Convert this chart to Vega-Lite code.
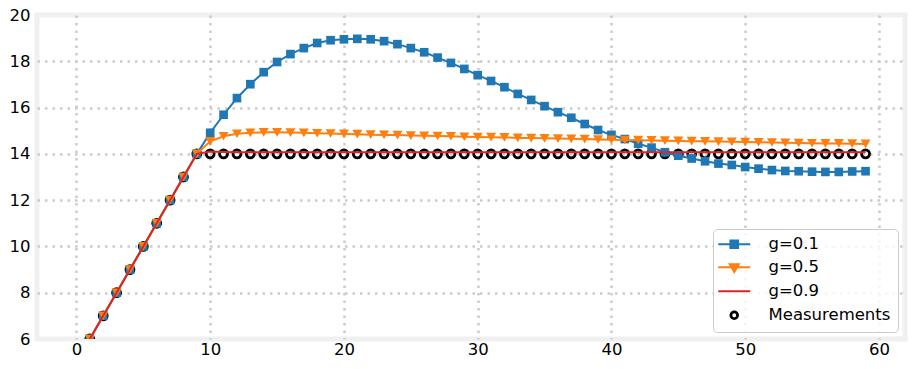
{
"$schema":"https://vega.github.io/schema/vega-lite/v6.json",
"width":868,"height":324,
"autosize":{"type":"none"},
"padding":{"left":37,"top":15,"right":11,"bottom":30},
"background":"white",
"config":{
 "view":{"stroke":"#f0f0f0","strokeWidth":5},
 "axis":{"labelFont":"DejaVu Sans","labelFontSize":16.5,"labelColor":"#000000","ticks":false,"tickSize":0,"domain":false,"grid":true,"gridColor":"#cbcbcb","gridDash":[2.5,5],"gridWidth":2.5,"labelFlush":false},
 "legend":{"orient":"bottom-right","offset":7,"padding":7,"fillColor":"rgba(255,255,255,0.8)","strokeColor":"#cccccc","cornerRadius":4,"labelFont":"DejaVu Sans","labelFontSize":16.5,"labelColor":"#000000","labelOffset":26,"symbolOffset":6,"rowPadding":6,"symbolSize":1024,"labelLimit":300}
},
"data":{"values":[
{"x":0,"y":5,"s":"g=0.1"},{"x":1,"y":6,"s":"g=0.1"},{"x":2,"y":7,"s":"g=0.1"},{"x":3,"y":8,"s":"g=0.1"},{"x":4,"y":9,"s":"g=0.1"},{"x":5,"y":10,"s":"g=0.1"},{"x":6,"y":11,"s":"g=0.1"},{"x":7,"y":12,"s":"g=0.1"},{"x":8,"y":13,"s":"g=0.1"},{"x":9,"y":14,"s":"g=0.1"},
{"x":10,"y":14.91,"s":"g=0.1"},{"x":11,"y":15.69,"s":"g=0.1"},{"x":12,"y":16.41,"s":"g=0.1"},{"x":13,"y":17.01,"s":"g=0.1"},{"x":14,"y":17.53,"s":"g=0.1"},{"x":15,"y":17.97,"s":"g=0.1"},{"x":16,"y":18.31,"s":"g=0.1"},{"x":17,"y":18.57,"s":"g=0.1"},{"x":18,"y":18.79,"s":"g=0.1"},{"x":19,"y":18.91,"s":"g=0.1"},
{"x":20,"y":18.95,"s":"g=0.1"},{"x":21,"y":18.97,"s":"g=0.1"},{"x":22,"y":18.95,"s":"g=0.1"},{"x":23,"y":18.87,"s":"g=0.1"},{"x":24,"y":18.74,"s":"g=0.1"},{"x":25,"y":18.57,"s":"g=0.1"},{"x":26,"y":18.39,"s":"g=0.1"},{"x":27,"y":18.16,"s":"g=0.1"},{"x":28,"y":17.93,"s":"g=0.1"},{"x":29,"y":17.67,"s":"g=0.1"},
{"x":30,"y":17.4,"s":"g=0.1"},{"x":31,"y":17.15,"s":"g=0.1"},{"x":32,"y":16.88,"s":"g=0.1"},{"x":33,"y":16.59,"s":"g=0.1"},{"x":34,"y":16.33,"s":"g=0.1"},{"x":35,"y":16.06,"s":"g=0.1"},{"x":36,"y":15.8,"s":"g=0.1"},{"x":37,"y":15.56,"s":"g=0.1"},{"x":38,"y":15.29,"s":"g=0.1"},{"x":39,"y":15.03,"s":"g=0.1"},
{"x":40,"y":14.82,"s":"g=0.1"},{"x":41,"y":14.64,"s":"g=0.1"},{"x":42,"y":14.44,"s":"g=0.1"},{"x":43,"y":14.27,"s":"g=0.1"},{"x":44,"y":14.07,"s":"g=0.1"},{"x":45,"y":13.92,"s":"g=0.1"},{"x":46,"y":13.8,"s":"g=0.1"},{"x":47,"y":13.68,"s":"g=0.1"},{"x":48,"y":13.58,"s":"g=0.1"},{"x":49,"y":13.52,"s":"g=0.1"},
{"x":50,"y":13.43,"s":"g=0.1"},{"x":51,"y":13.36,"s":"g=0.1"},{"x":52,"y":13.3,"s":"g=0.1"},{"x":53,"y":13.26,"s":"g=0.1"},{"x":54,"y":13.25,"s":"g=0.1"},{"x":55,"y":13.23,"s":"g=0.1"},{"x":56,"y":13.22,"s":"g=0.1"},{"x":57,"y":13.22,"s":"g=0.1"},{"x":58,"y":13.24,"s":"g=0.1"},{"x":59,"y":13.25,"s":"g=0.1"},
{"x":0,"y":5,"s":"g=0.5"},{"x":1,"y":6,"s":"g=0.5"},{"x":2,"y":7,"s":"g=0.5"},{"x":3,"y":8,"s":"g=0.5"},{"x":4,"y":9,"s":"g=0.5"},{"x":5,"y":10,"s":"g=0.5"},{"x":6,"y":11,"s":"g=0.5"},{"x":7,"y":12,"s":"g=0.5"},{"x":8,"y":13,"s":"g=0.5"},{"x":9,"y":14,"s":"g=0.5"},
{"x":10,"y":14.54,"s":"g=0.5"},{"x":11,"y":14.76,"s":"g=0.5"},{"x":12,"y":14.87,"s":"g=0.5"},{"x":13,"y":14.91,"s":"g=0.5"},{"x":14,"y":14.93,"s":"g=0.5"},{"x":15,"y":14.93,"s":"g=0.5"},{"x":16,"y":14.92,"s":"g=0.5"},{"x":17,"y":14.91,"s":"g=0.5"},{"x":18,"y":14.89,"s":"g=0.5"},{"x":19,"y":14.88,"s":"g=0.5"},
{"x":20,"y":14.86,"s":"g=0.5"},{"x":21,"y":14.85,"s":"g=0.5"},{"x":22,"y":14.83,"s":"g=0.5"},{"x":23,"y":14.82,"s":"g=0.5"},{"x":24,"y":14.81,"s":"g=0.5"},{"x":25,"y":14.79,"s":"g=0.5"},{"x":26,"y":14.78,"s":"g=0.5"},{"x":27,"y":14.77,"s":"g=0.5"},{"x":28,"y":14.76,"s":"g=0.5"},{"x":29,"y":14.74,"s":"g=0.5"},
{"x":30,"y":14.73,"s":"g=0.5"},{"x":31,"y":14.72,"s":"g=0.5"},{"x":32,"y":14.71,"s":"g=0.5"},{"x":33,"y":14.69,"s":"g=0.5"},{"x":34,"y":14.68,"s":"g=0.5"},{"x":35,"y":14.67,"s":"g=0.5"},{"x":36,"y":14.66,"s":"g=0.5"},{"x":37,"y":14.65,"s":"g=0.5"},{"x":38,"y":14.64,"s":"g=0.5"},{"x":39,"y":14.62,"s":"g=0.5"},
{"x":40,"y":14.61,"s":"g=0.5"},{"x":41,"y":14.6,"s":"g=0.5"},{"x":42,"y":14.59,"s":"g=0.5"},{"x":43,"y":14.58,"s":"g=0.5"},{"x":44,"y":14.57,"s":"g=0.5"},{"x":45,"y":14.56,"s":"g=0.5"},{"x":46,"y":14.55,"s":"g=0.5"},{"x":47,"y":14.54,"s":"g=0.5"},{"x":48,"y":14.53,"s":"g=0.5"},{"x":49,"y":14.52,"s":"g=0.5"},
{"x":50,"y":14.51,"s":"g=0.5"},{"x":51,"y":14.5,"s":"g=0.5"},{"x":52,"y":14.49,"s":"g=0.5"},{"x":53,"y":14.48,"s":"g=0.5"},{"x":54,"y":14.47,"s":"g=0.5"},{"x":55,"y":14.46,"s":"g=0.5"},{"x":56,"y":14.45,"s":"g=0.5"},{"x":57,"y":14.45,"s":"g=0.5"},{"x":58,"y":14.44,"s":"g=0.5"},{"x":59,"y":14.43,"s":"g=0.5"},
{"x":0,"y":5,"s":"g=0.9"},{"x":1,"y":6,"s":"g=0.9"},{"x":2,"y":7,"s":"g=0.9"},{"x":3,"y":8,"s":"g=0.9"},{"x":4,"y":9,"s":"g=0.9"},{"x":5,"y":10,"s":"g=0.9"},{"x":6,"y":11,"s":"g=0.9"},{"x":7,"y":12,"s":"g=0.9"},{"x":8,"y":13,"s":"g=0.9"},{"x":9,"y":14,"s":"g=0.9"},
{"x":10,"y":14.1,"s":"g=0.9"},{"x":11,"y":14.08,"s":"g=0.9"},{"x":12,"y":14.07,"s":"g=0.9"},{"x":13,"y":14.07,"s":"g=0.9"},{"x":14,"y":14.07,"s":"g=0.9"},{"x":15,"y":14.07,"s":"g=0.9"},{"x":16,"y":14.07,"s":"g=0.9"},{"x":17,"y":14.07,"s":"g=0.9"},{"x":18,"y":14.07,"s":"g=0.9"},{"x":19,"y":14.07,"s":"g=0.9"},
{"x":20,"y":14.07,"s":"g=0.9"},{"x":21,"y":14.07,"s":"g=0.9"},{"x":22,"y":14.07,"s":"g=0.9"},{"x":23,"y":14.07,"s":"g=0.9"},{"x":24,"y":14.07,"s":"g=0.9"},{"x":25,"y":14.07,"s":"g=0.9"},{"x":26,"y":14.07,"s":"g=0.9"},{"x":27,"y":14.07,"s":"g=0.9"},{"x":28,"y":14.07,"s":"g=0.9"},{"x":29,"y":14.07,"s":"g=0.9"},
{"x":30,"y":14.07,"s":"g=0.9"},{"x":31,"y":14.07,"s":"g=0.9"},{"x":32,"y":14.07,"s":"g=0.9"},{"x":33,"y":14.07,"s":"g=0.9"},{"x":34,"y":14.07,"s":"g=0.9"},{"x":35,"y":14.07,"s":"g=0.9"},{"x":36,"y":14.07,"s":"g=0.9"},{"x":37,"y":14.07,"s":"g=0.9"},{"x":38,"y":14.07,"s":"g=0.9"},{"x":39,"y":14.07,"s":"g=0.9"},
{"x":40,"y":14.07,"s":"g=0.9"},{"x":41,"y":14.07,"s":"g=0.9"},{"x":42,"y":14.07,"s":"g=0.9"},{"x":43,"y":14.07,"s":"g=0.9"},{"x":44,"y":14.07,"s":"g=0.9"},{"x":45,"y":14.07,"s":"g=0.9"},{"x":46,"y":14.07,"s":"g=0.9"},{"x":47,"y":14.07,"s":"g=0.9"},{"x":48,"y":14.07,"s":"g=0.9"},{"x":49,"y":14.07,"s":"g=0.9"},
{"x":50,"y":14.07,"s":"g=0.9"},{"x":51,"y":14.07,"s":"g=0.9"},{"x":52,"y":14.07,"s":"g=0.9"},{"x":53,"y":14.07,"s":"g=0.9"},{"x":54,"y":14.07,"s":"g=0.9"},{"x":55,"y":14.07,"s":"g=0.9"},{"x":56,"y":14.07,"s":"g=0.9"},{"x":57,"y":14.07,"s":"g=0.9"},{"x":58,"y":14.07,"s":"g=0.9"},{"x":59,"y":14.07,"s":"g=0.9"},
{"x":0,"y":5,"s":"Measurements"},{"x":1,"y":6,"s":"Measurements"},{"x":2,"y":7,"s":"Measurements"},{"x":3,"y":8,"s":"Measurements"},{"x":4,"y":9,"s":"Measurements"},{"x":5,"y":10,"s":"Measurements"},{"x":6,"y":11,"s":"Measurements"},{"x":7,"y":12,"s":"Measurements"},{"x":8,"y":13,"s":"Measurements"},{"x":9,"y":14,"s":"Measurements"},
{"x":10,"y":14,"s":"Measurements"},{"x":11,"y":14,"s":"Measurements"},{"x":12,"y":14,"s":"Measurements"},{"x":13,"y":14,"s":"Measurements"},{"x":14,"y":14,"s":"Measurements"},{"x":15,"y":14,"s":"Measurements"},{"x":16,"y":14,"s":"Measurements"},{"x":17,"y":14,"s":"Measurements"},{"x":18,"y":14,"s":"Measurements"},{"x":19,"y":14,"s":"Measurements"},
{"x":20,"y":14,"s":"Measurements"},{"x":21,"y":14,"s":"Measurements"},{"x":22,"y":14,"s":"Measurements"},{"x":23,"y":14,"s":"Measurements"},{"x":24,"y":14,"s":"Measurements"},{"x":25,"y":14,"s":"Measurements"},{"x":26,"y":14,"s":"Measurements"},{"x":27,"y":14,"s":"Measurements"},{"x":28,"y":14,"s":"Measurements"},{"x":29,"y":14,"s":"Measurements"},
{"x":30,"y":14,"s":"Measurements"},{"x":31,"y":14,"s":"Measurements"},{"x":32,"y":14,"s":"Measurements"},{"x":33,"y":14,"s":"Measurements"},{"x":34,"y":14,"s":"Measurements"},{"x":35,"y":14,"s":"Measurements"},{"x":36,"y":14,"s":"Measurements"},{"x":37,"y":14,"s":"Measurements"},{"x":38,"y":14,"s":"Measurements"},{"x":39,"y":14,"s":"Measurements"},
{"x":40,"y":14,"s":"Measurements"},{"x":41,"y":14,"s":"Measurements"},{"x":42,"y":14,"s":"Measurements"},{"x":43,"y":14,"s":"Measurements"},{"x":44,"y":14,"s":"Measurements"},{"x":45,"y":14,"s":"Measurements"},{"x":46,"y":14,"s":"Measurements"},{"x":47,"y":14,"s":"Measurements"},{"x":48,"y":14,"s":"Measurements"},{"x":49,"y":14,"s":"Measurements"},
{"x":50,"y":14,"s":"Measurements"},{"x":51,"y":14,"s":"Measurements"},{"x":52,"y":14,"s":"Measurements"},{"x":53,"y":14,"s":"Measurements"},{"x":54,"y":14,"s":"Measurements"},{"x":55,"y":14,"s":"Measurements"},{"x":56,"y":14,"s":"Measurements"},{"x":57,"y":14,"s":"Measurements"},{"x":58,"y":14,"s":"Measurements"},{"x":59,"y":14,"s":"Measurements"}
]},
"encoding":{
 "x":{"field":"x","type":"quantitative","scale":{"domain":[-2.95,61.95],"nice":false,"zero":false},"axis":{"values":[0,10,20,30,40,50,60],"labelPadding":2,"title":null}},
 "y":{"field":"y","type":"quantitative","scale":{"domain":[6,20],"nice":false,"zero":false},"axis":{"values":[6,8,10,12,14,16,18,20],"labelPadding":7,"title":null,"gridOpacity":{"condition":{"test":"datum.value <= 6 || datum.value >= 20","value":0},"value":1}}}
},
"layer":[
 {"transform":[{"filter":"datum.s === 'Measurements'"}],
  "mark":{"type":"point","shape":"circle","filled":false,"color":"#000000","strokeWidth":2.8,"size":64,"opacity":1,"clip":true}},
 {"transform":[{"filter":"datum.s === 'g=0.1'"}],
  "mark":{"type":"line","strokeWidth":2,"clip":true},
  "encoding":{"stroke":{"field":"s","type":"nominal","scale":{"domain":["g=0.1","g=0.5","g=0.9","Measurements"],"range":["#1f77b4","#ff7f0e","#d62728","#000000"]},
   "legend":{"title":null,"encode":{"symbols":{"update":{
     "shape":{"signal":"datum.value === 'g=0.1' ? 'M-1,0H1M-0.24,-0.24H0.24V0.24H-0.24Z' : datum.value === 'g=0.5' ? 'M-1,0H1M-0.28,-0.18H0.28L0,0.3Z' : datum.value === 'g=0.9' ? 'M-1,0H1' : 'M-0.21,0A0.21,0.21 0 1,1 0.21,0A0.21,0.21 0 1,1 -0.21,0Z'"},
     "fill":{"signal":"datum.value === 'g=0.1' ? '#1f77b4' : datum.value === 'g=0.5' ? '#ff7f0e' : 'transparent'"},
     "stroke":{"signal":"datum.value === 'g=0.1' ? '#1f77b4' : datum.value === 'g=0.5' ? '#ff7f0e' : datum.value === 'g=0.9' ? '#d62728' : '#000000'"},
     "strokeWidth":{"signal":"datum.value === 'Measurements' ? 2.8 : 2"},
     "size":{"value":1024},
     "opacity":{"value":1}
   }}}}}}},
 {"transform":[{"filter":"datum.s === 'g=0.1'"}],
  "mark":{"type":"point","shape":"square","filled":true,"color":"#1f77b4","size":75,"opacity":1,"clip":true}},
 {"transform":[{"filter":"datum.s === 'g=0.5'"}],
  "mark":{"type":"line","strokeWidth":2,"clip":true},
  "encoding":{"stroke":{"field":"s","type":"nominal","scale":{"domain":["g=0.1","g=0.5","g=0.9","Measurements"],"range":["#1f77b4","#ff7f0e","#d62728","#000000"]},
   "legend":{"title":null,"encode":{"symbols":{"update":{
     "shape":{"signal":"datum.value === 'g=0.1' ? 'M-1,0H1M-0.24,-0.24H0.24V0.24H-0.24Z' : datum.value === 'g=0.5' ? 'M-1,0H1M-0.28,-0.18H0.28L0,0.3Z' : datum.value === 'g=0.9' ? 'M-1,0H1' : 'M-0.21,0A0.21,0.21 0 1,1 0.21,0A0.21,0.21 0 1,1 -0.21,0Z'"},
     "fill":{"signal":"datum.value === 'g=0.1' ? '#1f77b4' : datum.value === 'g=0.5' ? '#ff7f0e' : 'transparent'"},
     "stroke":{"signal":"datum.value === 'g=0.1' ? '#1f77b4' : datum.value === 'g=0.5' ? '#ff7f0e' : datum.value === 'g=0.9' ? '#d62728' : '#000000'"},
     "strokeWidth":{"signal":"datum.value === 'Measurements' ? 2.8 : 2"},
     "size":{"value":1024},
     "opacity":{"value":1}
   }}}}}}},
 {"transform":[{"filter":"datum.s === 'g=0.5'"}],
  "mark":{"type":"point","shape":"triangle-down","filled":true,"color":"#ff7f0e","size":100,"opacity":1,"clip":true}},
 {"transform":[{"filter":"datum.s === 'g=0.9'"}],
  "mark":{"type":"line","strokeWidth":2,"clip":true},
  "encoding":{"stroke":{"field":"s","type":"nominal","scale":{"domain":["g=0.1","g=0.5","g=0.9","Measurements"],"range":["#1f77b4","#ff7f0e","#d62728","#000000"]},
   "legend":{"title":null,"encode":{"symbols":{"update":{
     "shape":{"signal":"datum.value === 'g=0.1' ? 'M-1,0H1M-0.24,-0.24H0.24V0.24H-0.24Z' : datum.value === 'g=0.5' ? 'M-1,0H1M-0.28,-0.18H0.28L0,0.3Z' : datum.value === 'g=0.9' ? 'M-1,0H1' : 'M-0.21,0A0.21,0.21 0 1,1 0.21,0A0.21,0.21 0 1,1 -0.21,0Z'"},
     "fill":{"signal":"datum.value === 'g=0.1' ? '#1f77b4' : datum.value === 'g=0.5' ? '#ff7f0e' : 'transparent'"},
     "stroke":{"signal":"datum.value === 'g=0.1' ? '#1f77b4' : datum.value === 'g=0.5' ? '#ff7f0e' : datum.value === 'g=0.9' ? '#d62728' : '#000000'"},
     "strokeWidth":{"signal":"datum.value === 'Measurements' ? 2.8 : 2"},
     "size":{"value":1024},
     "opacity":{"value":1}
   }}}}}}}
]
}
